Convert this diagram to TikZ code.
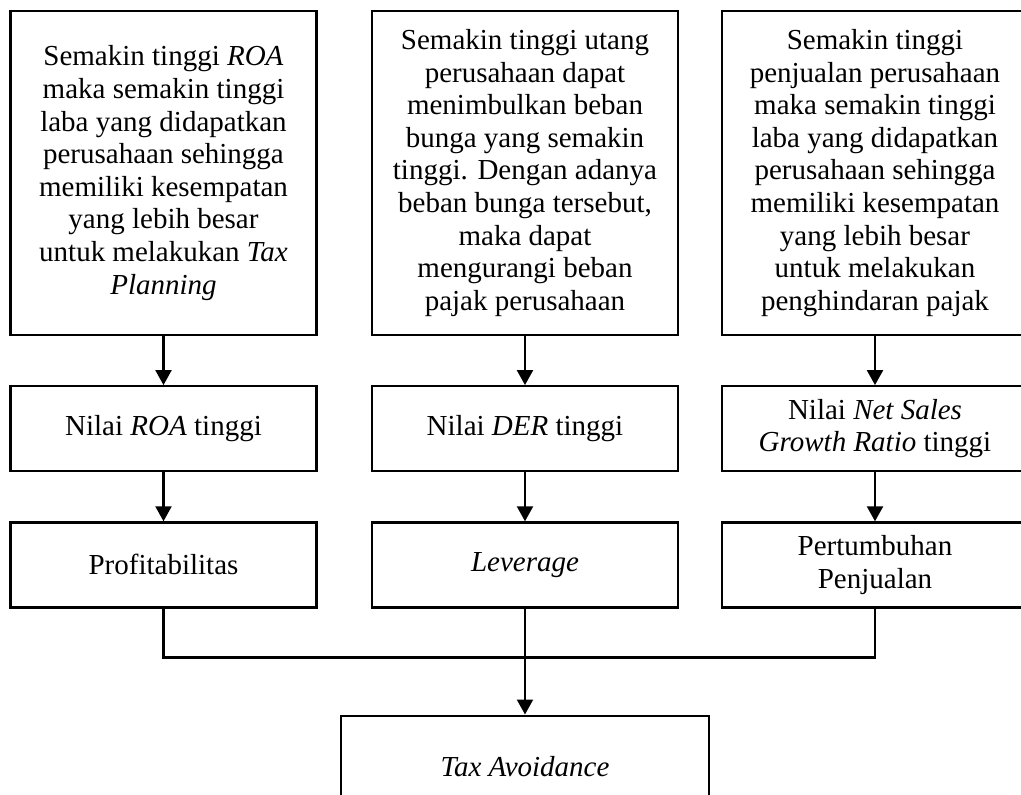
\documentclass[tikz,border=0pt]{standalone}
\usepackage{fontspec}
\setmainfont{Liberation Serif}
\usetikzlibrary{positioning,arrows.meta}

\begin{document}
\begin{tikzpicture}[
    x=1pt, y=1pt,
    node distance=49pt,
    box/.style={draw, line width=2.2pt, align=center, inner sep=3pt,
      font=\fontsize{29}{32.6}\selectfont, minimum width=306pt},
    reasonbox/.style={box, minimum height=324pt},
    valuebox/.style={box, minimum height=85pt},
    arrowline/.style={line width=2.2pt, -{Triangle[width=16pt,length=15pt]}},
    plainline/.style={line width=2.2pt}
  ]
  \clip (0,0) rectangle (1021,-795);

  \node[reasonbox] (roaReason) at (163.5,-173) {Semakin tinggi \textit{ROA}\\ maka semakin tinggi\\ laba yang didapatkan\\ perusahaan sehingga\\ memiliki kesempatan\\ yang lebih besar\\ untuk melakukan \textit{Tax}\\ \textit{Planning}};
  \node[reasonbox] (derReason) at (525,-173) {Semakin tinggi utang\\ perusahaan dapat\\ menimbulkan beban\\ bunga yang semakin\\ tinggi. Dengan adanya\\ beban bunga tersebut,\\ maka dapat\\ mengurangi beban\\ pajak perusahaan};
  \node[reasonbox] (salesReason) at (875,-173) {Semakin tinggi\\ penjualan perusahaan\\ maka semakin tinggi\\ laba yang didapatkan\\ perusahaan sehingga\\ memiliki kesempatan\\ yang lebih besar\\ untuk melakukan\\ penghindaran pajak};

  \node[valuebox, below=of roaReason] (roaValue) {Nilai \textit{ROA} tinggi};
  \node[valuebox, below=of derReason] (derValue) {Nilai \textit{DER} tinggi};
  \node[valuebox, below=of salesReason] (salesValue) {Nilai \textit{Net Sales}\\ \textit{Growth Ratio} tinggi};

  \node[valuebox, below=of roaValue] (profit) {Profitabilitas};
  \node[valuebox, below=of derValue] (leverage) {\textit{Leverage}};
  \node[valuebox, below=of salesValue] (growth) {Pertumbuhan\\ Penjualan};

  \node[box, minimum width=368pt, minimum height=102pt, below=106pt of leverage] (taxAvoid) {\textit{Tax Avoidance}};
  \coordinate[below=49pt of leverage.south] (junction);

  \draw[arrowline] (roaReason) -- (roaValue);
  \draw[arrowline] (derReason) -- (derValue);
  \draw[arrowline] (salesReason) -- (salesValue);
  \draw[arrowline] (roaValue) -- (profit);
  \draw[arrowline] (derValue) -- (leverage);
  \draw[arrowline] (salesValue) -- (growth);
  \draw[plainline] (profit.south) |- (junction) -| (growth.south);
  \draw[arrowline] (leverage.south) -- (taxAvoid.north);
\end{tikzpicture}
\end{document}
